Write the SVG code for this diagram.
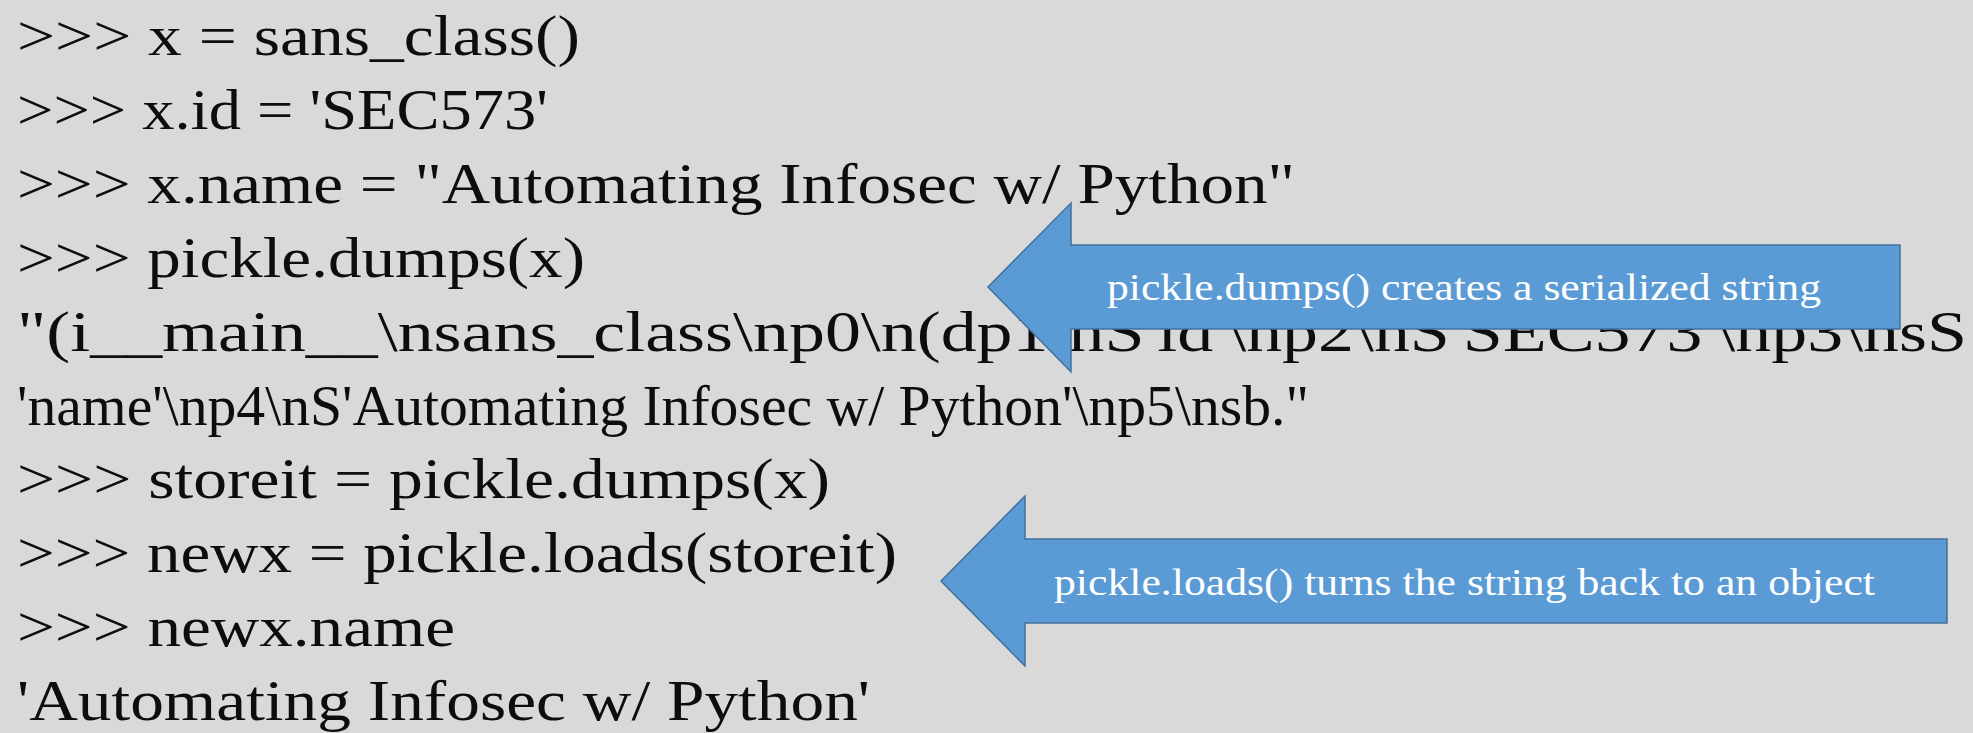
<svg xmlns="http://www.w3.org/2000/svg" width="1973" height="733" viewBox="0 0 1973 733">
  <style>
    .code { font-family: "Liberation Serif", "Times New Roman", serif; font-size: 58px; fill: #0d0d0d; }
    .callout { fill: #5B9BD5; stroke: #41719C; stroke-width: 1.5; }
    .note { font-family: "Liberation Serif", "Times New Roman", serif; font-size: 37px; fill: #ffffff; }
  </style>
  <rect width="1973" height="733" fill="#D9D9D9"/>

  <!-- interpreter session -->
  <g id="session">
    <text class="code" x="17" y="55" textLength="563" lengthAdjust="spacingAndGlyphs">&gt;&gt;&gt; x = sans_class()</text>
    <text class="code" x="17" y="129" textLength="531" lengthAdjust="spacingAndGlyphs">&gt;&gt;&gt; x.id = 'SEC573'</text>
    <text class="code" x="17" y="203" textLength="1278" lengthAdjust="spacingAndGlyphs">&gt;&gt;&gt; x.name = "Automating Infosec w/ Python"</text>
    <text class="code" x="17" y="277" textLength="568" lengthAdjust="spacingAndGlyphs">&gt;&gt;&gt; pickle.dumps(x)</text>
    <text class="code" x="17" y="351" textLength="1950" lengthAdjust="spacingAndGlyphs">"(i__main__\nsans_class\np0\n(dp1\nS'id'\np2\nS'SEC573'\np3\nsS</text>
    <text class="code" x="17" y="425" textLength="1292" lengthAdjust="spacingAndGlyphs">'name'\np4\nS'Automating Infosec w/ Python'\np5\nsb."</text>
    <text class="code" x="17" y="498" textLength="813" lengthAdjust="spacingAndGlyphs">&gt;&gt;&gt; storeit = pickle.dumps(x)</text>
    <text class="code" x="17" y="572" textLength="880" lengthAdjust="spacingAndGlyphs">&gt;&gt;&gt; newx = pickle.loads(storeit)</text>
    <text class="code" x="17" y="646" textLength="438" lengthAdjust="spacingAndGlyphs">&gt;&gt;&gt; newx.name</text>
    <text class="code" x="17" y="720" textLength="853" lengthAdjust="spacingAndGlyphs">'Automating Infosec w/ Python'</text>
  </g>

  <!-- left-pointing callout arrows -->
  <g id="connectors">
    <g id="dumps-callout">
      <polygon class="callout" points="988,287 1071,203 1071,245 1900,245 1900,329 1071,329 1071,372"/>
      <text class="note" x="1107" y="300" textLength="714" lengthAdjust="spacingAndGlyphs">pickle.dumps() creates a serialized string</text>
    </g>
    <g id="loads-callout">
      <polygon class="callout" points="941,581 1025,496 1025,539 1947,539 1947,623 1025,623 1025,666"/>
      <text class="note" x="1054" y="595" textLength="821" lengthAdjust="spacingAndGlyphs">pickle.loads() turns the string back to an object</text>
    </g>
  </g>
</svg>
